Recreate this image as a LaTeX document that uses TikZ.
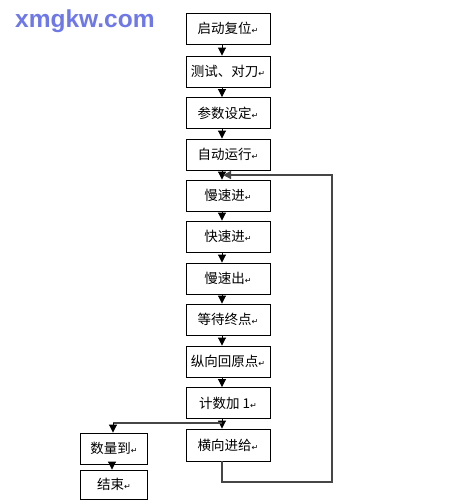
\documentclass[tikz,border=0pt]{standalone}
\usepackage{fontspec}
\setmainfont{Noto Sans CJK SC}
\newfontfamily\wmfont{Liberation Sans}
\newfontfamily\symfont{DejaVu Sans}
\usetikzlibrary{arrows.meta}
\definecolor{wmblue}{RGB}{110,120,230}
\definecolor{loopgray}{RGB}{70,70,70}
\newcommand{\parmark}{{\symfont\fontsize{8}{8}\selectfont ↵}}
\begin{document}
\begin{tikzpicture}[x=1pt,y=-1pt,
  box/.style={draw=black,line width=0.9pt,minimum width=84pt,minimum height=31pt,inner sep=0pt,
    font=\fontsize{13.5}{14}\selectfont},
  sbox/.style={box,minimum width=67pt},
  arr/.style={line width=0.9pt,-{Triangle[length=8pt,width=8pt]}},
  loopline/.style={line width=1.4pt,draw=loopgray}]
\useasboundingbox (0,0) rectangle (460,504);
\node[anchor=west,text=wmblue,font=\wmfont\bfseries\fontsize{24.5}{26}\selectfont,inner sep=0pt] (wm) at (15,21) {xmgkw.com};
\node[box] (b1) at (228,28.5) {启动复位\parmark};
\node[box] (b2) at (228,71.5) {测试、对刀\parmark};
\node[box] (b3) at (228,113) {参数设定\parmark};
\node[box] (b4) at (228,154.5) {自动运行\parmark};
\node[box] (b5) at (228,195.5) {慢速进\parmark};
\node[box] (b6) at (228,236.5) {快速进\parmark};
\node[box] (b7) at (228,278.5) {慢速出\parmark};
\node[box] (b8) at (228,319.5) {等待终点\parmark};
\node[box] (b9) at (228,361.5) {纵向回原点\parmark};
\node[box] (b10) at (228,403) {计数加 1\parmark};
\node[box,minimum height=32pt] (b11) at (228,445) {横向进给\parmark};
\node[sbox] (s1) at (114,448.5) {数量到\parmark};
\node[sbox,minimum height=29pt] (s2) at (114,484.5) {结束\parmark};
\foreach \a/\b in {b1/b2,b2/b3,b3/b4,b4/b5,b5/b6,b6/b7,b7/b8,b8/b9,b9/b10,b10/b11}
  \draw[arr] ([xshift=-6pt]\a.south) -- ([xshift=-6pt]\b.north);
\coordinate (br) at (222,423);
\coordinate (bl) at (113,423);
\draw[line width=1.4pt,draw=loopgray] (br) -- (bl);
\draw[arr] (bl) -- ([xshift=-1pt]s1.north);
\draw[arr] ([xshift=-2pt]s1.south) -- ([xshift=-2pt]s2.north);
\coordinate (l1) at (222,482);
\coordinate (l2) at (332,482);
\coordinate (l3) at (332,175);
\coordinate (l4) at (223,175);
\draw[loopline,-{Triangle[length=8pt,width=8pt]}] ([xshift=-6pt]b11.south) -- (l1) -- (l2) -- (l3) -- (l4);
\end{tikzpicture}
\end{document}
